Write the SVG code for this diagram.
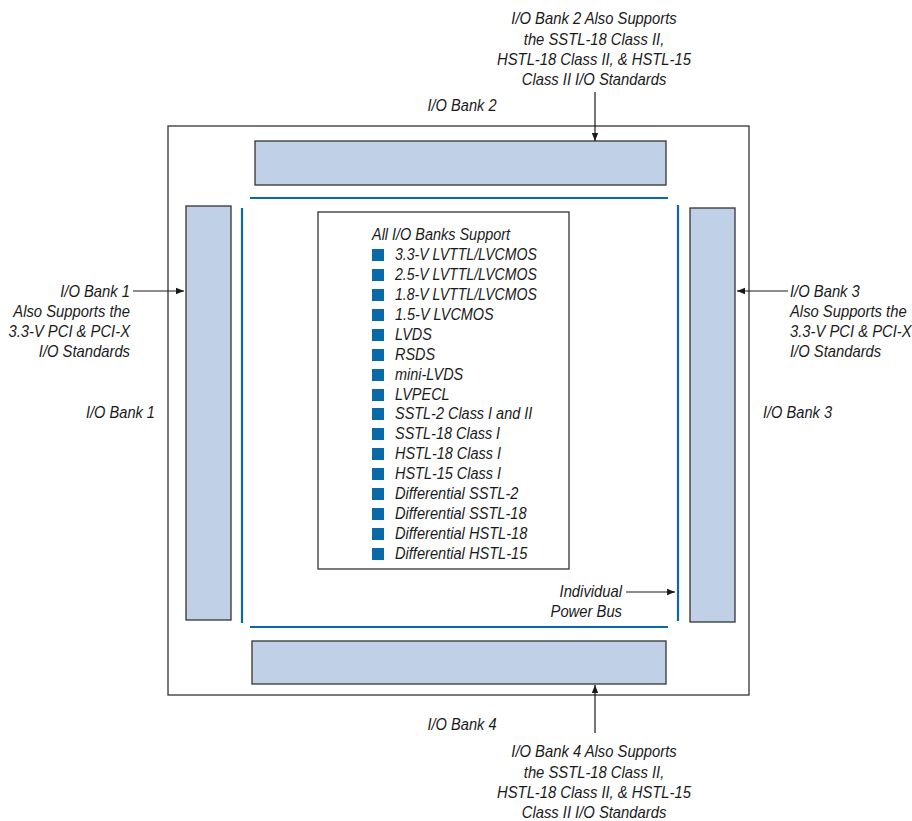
<svg xmlns="http://www.w3.org/2000/svg" width="912" height="821" viewBox="0 0 912 821">
<style>
.t{font-family:"Liberation Sans",Arial,sans-serif;font-style:italic;font-size:17px;fill:#1a1a1a}
.m{text-anchor:middle}
.e{text-anchor:end}
.bank{fill:#c0d0e6;stroke:#333;stroke-width:1.3}
.bus{stroke:#0a6aa8;stroke-width:2.2;fill:none}
.sq{fill:#0a6aa8}
.ar{stroke:#1a1a1a;stroke-width:1.2;fill:none;marker-end:url(#ah)}
</style>
<defs>
<marker id="ah" viewBox="0 0 10 10" refX="10" refY="5" markerWidth="8" markerHeight="8" markerUnits="userSpaceOnUse" orient="auto">
<path d="M0,1 L10,5 L0,9 z" fill="#1a1a1a"/>
</marker>
</defs>
<rect width="912" height="821" fill="#fff"/>
<g id="frame"><rect x="168" y="126" width="581" height="569" fill="none" stroke="#333" stroke-width="1.3"/></g>
<g id="bank2"><rect class="bank" x="255" y="141" width="411" height="44"/></g>
<g id="bank4"><rect class="bank" x="252" y="641" width="414" height="43"/></g>
<g id="bank1"><rect class="bank" x="186" y="206" width="45" height="414"/></g>
<g id="bank3"><rect class="bank" x="690" y="208" width="45" height="414"/></g>
<g id="powerbus">
<line class="bus" x1="250" y1="198" x2="668" y2="198"/>
<line class="bus" x1="250" y1="627" x2="668" y2="627"/>
<line class="bus" x1="242" y1="208" x2="242" y2="623"/>
<line class="bus" x1="678" y1="205" x2="678" y2="621"/>
</g>
<g id="support">
<rect x="318" y="212" width="251" height="357" fill="#fff" stroke="#333" stroke-width="1.3"/>
<text class="t" transform="translate(372,240) scale(.85,1)">All I/O Banks Support</text>
<g class="sq">
<rect x="372" y="249" width="12" height="12"/>
<rect x="372" y="269" width="12" height="12"/>
<rect x="372" y="289" width="12" height="12"/>
<rect x="372" y="309" width="12" height="12"/>
<rect x="372" y="329" width="12" height="12"/>
<rect x="372" y="349" width="12" height="12"/>
<rect x="372" y="369" width="12" height="12"/>
<rect x="372" y="389" width="12" height="12"/>
<rect x="372" y="408" width="12" height="12"/>
<rect x="372" y="428" width="12" height="12"/>
<rect x="372" y="448" width="12" height="12"/>
<rect x="372" y="468" width="12" height="12"/>
<rect x="372" y="488" width="12" height="12"/>
<rect x="372" y="508" width="12" height="12"/>
<rect x="372" y="528" width="12" height="12"/>
<rect x="372" y="548" width="12" height="12"/>
</g>
<text class="t" transform="translate(395,260) scale(.83,1)">3.3-V LVTTL/LVCMOS</text>
<text class="t" transform="translate(395,280) scale(.83,1)">2.5-V LVTTL/LVCMOS</text>
<text class="t" transform="translate(395,300) scale(.83,1)">1.8-V LVTTL/LVCMOS</text>
<text class="t" transform="translate(395,320) scale(.85,1)">1.5-V LVCMOS</text>
<text class="t" transform="translate(395,340) scale(.85,1)">LVDS</text>
<text class="t" transform="translate(395,360) scale(.85,1)">RSDS</text>
<text class="t" transform="translate(395,380) scale(.85,1)">mini-LVDS</text>
<text class="t" transform="translate(395,400) scale(.85,1)">LVPECL</text>
<text class="t" transform="translate(395,419) scale(.85,1)">SSTL-2 Class I and II</text>
<text class="t" transform="translate(395,439) scale(.85,1)">SSTL-18 Class I</text>
<text class="t" transform="translate(395,459) scale(.85,1)">HSTL-18 Class I</text>
<text class="t" transform="translate(395,479) scale(.85,1)">HSTL-15 Class I</text>
<text class="t" transform="translate(395,499) scale(.86,1)">Differential SSTL-2</text>
<text class="t" transform="translate(395,519) scale(.86,1)">Differential SSTL-18</text>
<text class="t" transform="translate(395,539) scale(.86,1)">Differential HSTL-18</text>
<text class="t" transform="translate(395,559) scale(.86,1)">Differential HSTL-15</text>
</g>
<g id="labels">
<text class="t m" transform="translate(462,111) scale(.86,1)">I/O Bank 2</text>
<text class="t m" transform="translate(462,730) scale(.86,1)">I/O Bank 4</text>
<text class="t e" transform="translate(155,418) scale(.86,1)">I/O Bank 1</text>
<text class="t" transform="translate(763,418) scale(.86,1)">I/O Bank 3</text>
<text class="t m" transform="translate(594,24) scale(.87,1)">I/O Bank 2 Also Supports</text>
<text class="t m" transform="translate(594,45) scale(.87,1)">the SSTL-18 Class II,</text>
<text class="t m" transform="translate(594,65) scale(.87,1)">HSTL-18 Class II, &amp; HSTL-15</text>
<text class="t m" transform="translate(594,85) scale(.87,1)">Class II I/O Standards</text>
<text class="t m" transform="translate(594,757) scale(.87,1)">I/O Bank 4 Also Supports</text>
<text class="t m" transform="translate(594,778) scale(.87,1)">the SSTL-18 Class II,</text>
<text class="t m" transform="translate(594,798) scale(.87,1)">HSTL-18 Class II, &amp; HSTL-15</text>
<text class="t m" transform="translate(594,818) scale(.87,1)">Class II I/O Standards</text>
<text class="t e" transform="translate(130,297) scale(.87,1)">I/O Bank 1</text>
<text class="t e" transform="translate(130,317) scale(.87,1)">Also Supports the</text>
<text class="t e" transform="translate(130,337) scale(.87,1)">3.3-V PCI &amp; PCI-X</text>
<text class="t e" transform="translate(130,357) scale(.87,1)">I/O Standards</text>
<text class="t e" transform="translate(622,597) scale(.87,1)">Individual</text>
<text class="t e" transform="translate(622,617) scale(.87,1)">Power Bus</text>
<text class="t" transform="translate(790,297) scale(.87,1)">I/O Bank 3</text>
<text class="t" transform="translate(790,317) scale(.87,1)">Also Supports the</text>
<text class="t" transform="translate(790,337) scale(.87,1)">3.3-V PCI &amp; PCI-X</text>
<text class="t" transform="translate(790,357) scale(.87,1)">I/O Standards</text>
</g>
<g id="connectors">
<line class="ar" x1="595" y1="92" x2="595" y2="141"/>
<line class="ar" x1="595" y1="733" x2="595" y2="685"/>
<line class="ar" x1="133" y1="291" x2="184" y2="291"/>
<line class="ar" x1="788" y1="291" x2="737" y2="291"/>
<line class="ar" x1="626" y1="592" x2="675" y2="592"/>
</g>
</svg>
